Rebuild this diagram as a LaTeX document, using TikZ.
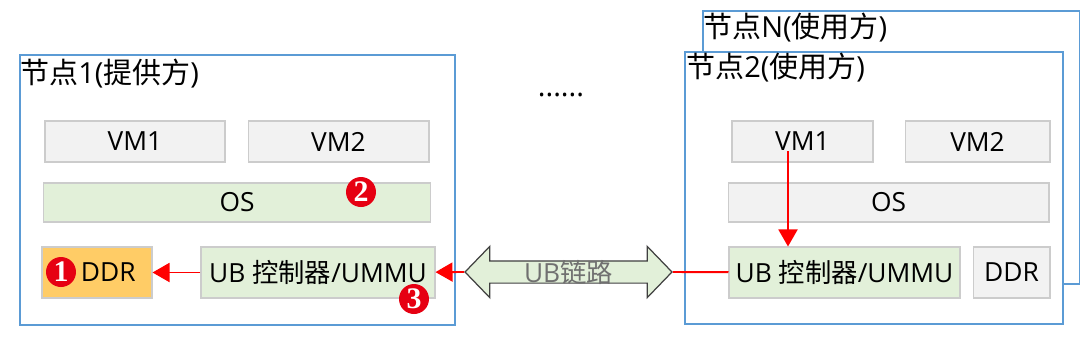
\documentclass[tikz,border=0pt]{standalone}
\usepackage{fontspec}
\setmainfont{Open Sans}
\newfontfamily\cjk{Noto Sans CJK SC}
\newfontfamily\numfont{Liberation Serif}
\usepackage{tikz}
\usetikzlibrary{arrows.meta,positioning,shapes.arrows}
\definecolor{frameblue}{HTML}{5B9BD5}
\definecolor{boxgray}{HTML}{F2F2F2}
\definecolor{boxline}{HTML}{CCCCCC}
\definecolor{boxgreen}{HTML}{E2F0D9}
\definecolor{ddrorange}{HTML}{FFCC66}
\definecolor{numred}{HTML}{E60012}
\definecolor{linkline}{HTML}{404040}
\definecolor{linktext}{HTML}{707070}

\begin{document}
\begin{tikzpicture}[
    x=0.02cm,y=-0.02cm,
    frame/.style={draw=frameblue,fill=white,line width=1pt,anchor=north west,inner sep=0pt},
    title/.style={anchor=west,inner sep=0pt,font=\fontsize{16.5}{18}\selectfont},
    box/.style={draw=boxline,fill=boxgray,line width=0.6pt,inner sep=0pt,
      minimum height=0.82cm,font=\fontsize{15}{18}\selectfont},
    osbox/.style={box,minimum height=0.78cm},
    hwbox/.style={box,minimum height=1.02cm},
    num/.style={circle,fill=numred,text=white,inner sep=0pt,minimum size=0.6cm,
      font=\numfont\bfseries\fontsize{17}{17}\selectfont},
    arrow/.style={-{Triangle[length=0.34cm,width=0.38cm]},draw=red,line width=1.1pt},
    line/.style={draw=red,line width=1.1pt},
    link/.style={double arrow,draw=linkline,fill=boxgreen,line width=0.7pt,inner sep=0pt,
      minimum height=4.14cm,minimum width=1.0cm,double arrow head extend=0.29cm,
      double arrow tip angle=92,text height=0.41cm,text depth=0.01cm,
      text=linktext,font=\fontsize{15}{18}\selectfont}
  ]
    \useasboundingbox (0,0) rectangle (1080,336);
    % frames
    \node[frame,minimum width=8.7cm,minimum height=5.4cm] (n1) at (19,54) {};
    \node[frame,minimum width=7.54cm,minimum height=5.46cm] (nN) at (702,10) {};
    \node[frame,minimum width=7.56cm,minimum height=5.44cm] (n2) at (684,51) {};
    \node[title] (t1) at ([shift={(1,20)}]n1.north west) {{\cjk 节点}1({\cjk 提供方})};
    \node[title] (tN) at ([shift={(1,18)}]nN.north west) {{\cjk 节点}N({\cjk 使用方})};
    \node[title] (t2) at ([shift={(2,17)}]n2.north west) {{\cjk 节点}2({\cjk 使用方})};
    \node[font=\fontsize{16.5}{18}\selectfont] (dots) at (561,95) {......};
    % node 1
    \node[box,minimum width=3.6cm] (vm1a) at (135,141.5) {VM1};
    \node[box,minimum width=3.62cm,right=0.44cm of vm1a] (vm2a) {VM2};
    \node[osbox,fill=boxgreen,minimum width=7.76cm] (osa) at (237,202.5) {OS};
    \node[hwbox,fill=ddrorange,minimum width=2.2cm] (ddra) at (97,272.5) {\hspace*{0.45cm}DDR};
    \node[hwbox,fill=boxgreen,minimum width=4.68cm] (uba) at (318,272.5) {UB {\cjk 控制器}/UMMU};
    % node 2
    \node[box,minimum width=2.82cm] (vm1b) at (802.5,141.5) {VM1};
    \node[box,minimum width=2.9cm,right=0.62cm of vm1b] (vm2b) {VM2};
    \node[osbox,minimum width=6.42cm] (osb) at (888.5,202.5) {OS};
    \node[hwbox,fill=boxgreen,minimum width=4.62cm] (ubb) at (844.5,272.5) {UB {\cjk 控制器}/UMMU};
    \node[hwbox,minimum width=1.54cm,right=0.24cm of ubb] (ddrb) {DDR};
    % link
    \node[link] (ub) at (568.5,272) {UB{\cjk 链路}};
    \coordinate (vmsrc) at (788,151);
    \draw[arrow] (uba) -- (ddra);
    \draw[arrow] (ub.west) -- (uba);
    \draw[line] (ub.east) -- (ubb);
    \draw[arrow] (vmsrc) -- (vmsrc |- ubb.north);
    % steps
    \node[num] (s1) at (61,272) {1};
    \node[num] (s2) at (361,192) {2};
    \node[num] (s3) at (414,299) {3};
\end{tikzpicture}
\end{document}
